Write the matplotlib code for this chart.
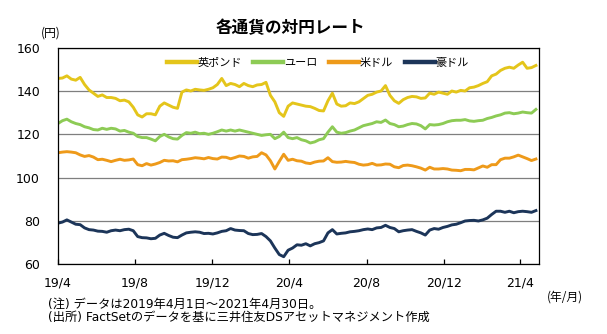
import matplotlib
matplotlib.use('Agg')
import matplotlib.pyplot as plt
import matplotlib.dates as mdates
import pandas as pd

JP = ['Noto Sans CJK JP', 'DejaVu Sans']
NOTE = ['DejaVu Sans', 'Noto Sans CJK JP']

# weekly readings, Monday 2019-04-01 .. 2021-04-26
dates = pd.date_range('2019-04-01', '2021-04-26', freq='7D')

gbp = [145.8, 146.0, 147.0, 145.5, 145.0, 146.3, 143.0, 140.5, 139.0, 137.5,
       138.2, 137.0, 137.0, 136.6, 135.5, 135.8, 135.0, 132.5, 129.0, 128.0,
       129.5, 129.5, 129.0, 133.0, 134.5, 133.5, 132.5, 132.0, 139.5, 140.5,
       140.0, 140.8, 140.5, 140.3, 140.8, 141.5, 143.0, 145.8, 142.5, 143.5,
       143.0, 142.0, 143.5, 142.5, 142.0, 142.8, 143.0, 144.0, 138.0, 135.0,
       130.0, 128.3, 133.0, 134.5, 134.0, 133.5, 133.0, 132.8, 132.0, 131.0,
       130.8, 135.5, 139.0, 134.0, 133.0, 133.2, 134.5, 134.2, 135.0, 136.5,
       138.0, 138.5, 139.5, 140.0, 142.5, 138.0, 135.5, 134.3, 136.0, 137.0,
       137.5, 137.3, 136.6, 136.8, 139.0, 138.5, 139.5, 139.0, 138.5, 140.0,
       139.5, 140.3, 140.0, 141.5, 141.8, 142.5, 143.5, 144.3, 147.0, 147.8,
       149.5, 150.5, 151.0, 150.5, 152.0, 153.3, 150.5, 150.8, 151.8]

eur = [125.0, 126.3, 127.0, 125.8, 125.0, 124.5, 123.5, 123.0, 122.2, 122.0,
       122.8, 122.3, 122.8, 122.5, 121.5, 121.8, 121.0, 120.5, 119.0, 118.5,
       118.5, 117.8, 117.0, 119.0, 120.0, 118.8, 118.0, 117.8, 119.5, 120.8,
       120.5, 121.0, 120.3, 120.5, 120.0, 120.5, 121.2, 122.0, 121.5, 122.0,
       121.5, 122.0, 121.5, 121.0, 120.5, 120.0, 119.5, 119.8, 120.0, 118.0,
       119.0, 121.0, 118.5, 118.0, 118.5, 117.5, 117.0, 116.0, 116.5, 117.5,
       118.0, 121.0, 123.5, 121.0, 120.5, 120.8, 121.5, 122.0, 123.0, 124.0,
       124.5, 125.0, 125.8, 125.5, 126.6, 125.0, 124.5, 123.5, 123.8, 124.5,
       125.0, 124.8, 124.0, 122.5, 124.5, 124.3, 124.5, 125.0, 125.8, 126.3,
       126.5, 126.5, 126.8, 126.2, 126.0, 126.3, 126.5, 127.3, 127.8, 128.5,
       129.0, 129.8, 130.0, 129.5, 129.8, 130.3, 130.0, 129.8, 131.5]

usd = [111.5, 111.8, 112.0, 111.8, 111.5, 110.5, 109.8, 110.2, 109.5, 108.3,
       108.5, 108.0, 107.4, 108.0, 108.5, 108.0, 108.2, 108.6, 106.0, 105.5,
       106.5, 105.8, 106.3, 107.0, 108.0, 107.7, 107.8, 107.3, 108.3, 108.5,
       108.8, 109.2, 109.0, 108.7, 109.3, 108.8, 108.6, 109.5, 109.4, 108.7,
       109.3, 110.0, 109.8, 109.0, 109.6, 109.8, 111.5, 110.5, 107.8, 104.0,
       107.5, 110.8, 108.0, 108.5, 107.8, 107.6, 106.8, 106.5, 107.2, 107.6,
       107.7, 109.2, 107.4, 107.1, 107.2, 107.5, 107.2, 107.0, 106.2, 105.8,
       106.0, 106.6, 105.8, 105.9, 106.3, 106.2, 105.0, 104.6, 105.6, 105.8,
       105.5, 105.0, 104.4, 103.5, 104.8, 104.0, 104.0, 104.2, 104.0, 103.5,
       103.4, 103.2, 103.8, 103.8, 103.6, 104.5, 105.4, 104.8, 106.0, 106.0,
       108.3, 109.0, 109.0, 109.6, 110.4, 109.6, 108.8, 107.9, 108.6]

aud = [79.0, 79.5, 80.5, 79.5, 78.5, 78.3, 76.8, 76.0, 75.8, 75.3,
       75.2, 74.8, 75.5, 75.8, 75.5, 76.0, 76.2, 75.5, 72.8, 72.3,
       72.2, 71.8, 72.0, 73.5, 74.3, 73.3, 72.5, 72.3, 73.5, 74.5,
       74.8, 75.0, 74.8, 74.2, 74.3, 74.0, 74.5, 75.2, 75.5, 76.5,
       75.8, 75.6, 75.5, 74.2, 73.7, 73.8, 74.2, 72.8, 70.8, 67.5,
       64.5, 63.5, 66.5, 67.5, 69.0, 68.8, 69.5, 68.5, 69.5, 70.0,
       70.8, 74.5, 76.0, 74.0, 74.3, 74.5, 75.0, 75.2, 75.5, 76.0,
       76.3, 76.0, 76.8, 77.0, 78.0, 77.0, 76.5, 75.0, 75.5, 75.8,
       76.0, 75.2, 74.5, 73.5, 75.8, 76.5, 76.2, 77.0, 77.5, 78.2,
       78.5, 79.2, 80.0, 80.2, 80.3, 80.0, 80.5, 81.3, 83.0, 84.5,
       84.5, 84.0, 84.5, 83.8, 84.3, 84.5, 84.3, 84.0, 84.8]

series = ['英ポンド', 'ユーロ', '米ドル', '豪ドル']
colors = ['#E4C51B', '#8DCB55', '#EE9A1A', '#1C3559']
yticks = [60, 80, 100, 120, 140, 160]
xticks = ['2019-04-01', '2019-08-01', '2019-12-01', '2020-04-01',
          '2020-08-01', '2020-12-01', '2021-04-01']

fig = plt.figure(figsize=(6.07, 3.34), dpi=100)
ax = fig.add_axes([0.0956, 0.2087, 0.7925, 0.6485])

for name, vals, c in zip(series, [gbp, eur, usd, aud], colors):
    ax.plot(dates, vals, color=c, lw=2.1, label=name, solid_joinstyle='round')

ax.set_ylim(60, 160)
ax.set_yticks(yticks)
ax.set_xlim(pd.Timestamp('2019-04-01'), pd.Timestamp('2021-05-01'))
ax.set_xticks(pd.to_datetime(xticks))
ax.xaxis.set_major_formatter(
    matplotlib.ticker.FuncFormatter(
        lambda v, p: '{}/{}'.format(mdates.num2date(v).year % 100,
                                    mdates.num2date(v).month)))

ax.grid(axis='y', color='#7f7f7f', lw=0.9)
ax.set_axisbelow(True)
for s in ax.spines.values():
    s.set_color('black')
    s.set_linewidth(0.9)
ax.tick_params(axis='y', length=0, pad=13, labelsize=9)
ax.tick_params(axis='x', direction='in', length=3.5, width=0.9,
               pad=9, labelsize=9)

leg = ax.legend(loc='center', bbox_to_anchor=(0.54, 0.928), ncol=4,
                frameon=False, handlelength=2.7, handletextpad=0.1,
                columnspacing=1.0, prop={'family': JP, 'size': 8})
for h in leg.get_lines():
    h.set_linewidth(3.2)

fig.text(0.479, 0.916, '各通貨の対円レート', ha='center', va='center',
         family=JP, fontsize=12, fontweight='bold')
fig.text(0.083, 0.901, '(円)', ha='center', va='center', family=JP, fontsize=8.5)
fig.text(0.931, 0.111, '(年/月)', ha='center', va='center', family=JP, fontsize=8.5)
fig.text(0.079, 0.090, '(注) データは2019年4月1日～2021年4月30日。',
         ha='left', va='center', family=NOTE, fontsize=8.8)
fig.text(0.079, 0.051, '(出所) FactSetのデータを基に三井住友DSアセットマネジメント作成',
         ha='left', va='center', family=NOTE, fontsize=8.8)

fig.savefig('out.png', dpi=100)
